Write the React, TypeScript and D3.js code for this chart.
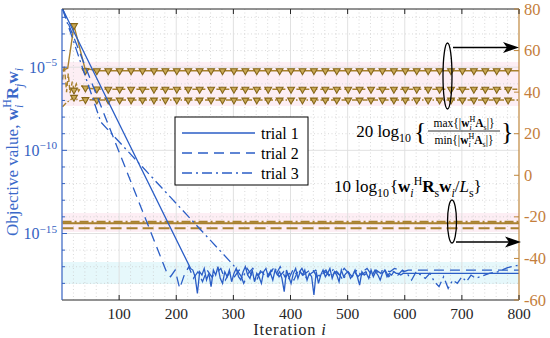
import React from "react";
import * as d3 from "d3";

// objective value (log10 exponent) per iteration, blue curves on the left axis
const trial1Head = [[1, -1.5], [225, -17.1]];
const trial1Floor = [
  -17.2, -17.6, -18.6, -17.3, -17.5, -17.1, -17.8, -17.4, -18.2, -17.2,
  -17.5, -17.0, -17.7, -18.0, -17.3, -17.6, -17.2, -17.9, -17.4, -17.1,
  -17.6, -17.8, -17.3, -17.0, -17.5, -17.7, -17.2, -17.9, -17.4, -17.6,
  -18.0, -17.3, -17.1, -17.6, -17.4, -17.8, -17.2, -17.5, -17.3, -17.7,
  -18.5, -17.2, -17.6, -18.0, -17.4, -17.1, -17.7, -17.3, -17.5, -17.2,
  -17.8, -17.4, -17.6, -18.7, -17.3, -18.0, -17.5, -17.2, -17.6, -17.4,
  -17.1, -17.7, -17.3, -17.5, -17.9, -17.2, -17.6, -17.4, -17.3, -17.7,
  -17.5, -17.2, -17.6, -18.1, -17.3, -17.5, -17.4, -17.7, -17.2, -17.6,
  -17.3, -17.5, -17.8, -17.4, -17.2, -17.6, -17.4, -17.5, -17.3, -17.4,
  -17.4, -17.5, -17.4, -17.4,
];
const trial1Tail = [[605, -17.4], [800, -17.4]];

const trial2Head = [[1, -1.5], [184, -17.4]];
const trial2Floor = [
  -17.6, -17.2, -18.3, -17.5, -17.0, -17.7, -17.3, -17.9, -17.2, -17.6,
  -17.4, -17.1, -17.8, -17.3, -17.6, -17.2, -18.0, -17.4, -17.1, -17.5,
  -17.3, -17.7, -17.2, -17.5, -17.0, -17.6, -17.4, -17.8, -17.2, -17.5,
  -17.3, -17.1, -17.6, -17.4, -17.2, -17.7, -17.3, -17.5, -17.1, -17.4,
  -17.2, -17.6, -17.3, -17.1, -17.5, -17.2, -17.4, -17.2, -17.3, -17.1,
  -17.2, -17.3, -17.2,
];
const trial2Tail = [[614, -17.2], [800, -17.2]];

const trial3Head = [[1, -1.5], [68, -8.3], [300, -16.9]];
const trial3Floor = [
  -17.3, -17.7, -17.1, -17.5, -17.9, -17.2, -17.6, -17.4, -17.0, -17.6,
  -17.3, -17.8, -17.2, -17.5, -17.1, -17.7, -17.4, -17.2, -17.6, -17.3,
  -17.5, -17.1, -17.4, -17.8, -17.3, -17.6, -17.2, -17.5, -17.3, -17.7,
  -17.2, -17.4, -17.1, -17.6, -17.3, -17.5, -17.2, -17.4, -17.8, -17.3,
  -17.5, -17.7, -17.4, -17.9, -18.2, -17.6, -18.3, -17.8, -18.0, -17.6,
  -17.9, -17.5, -17.7, -17.6,
];
const trial3Tail = [[748, -17.4], [764, -17.3], [780, -17.05], [800, -16.9]];

// right axis (dB): max/min ratio curves with triangle markers
const ratioA = [[1, 50.5], [10, 51.5], [21, 72], [40, 51.5], [61, 50.3], [800, 50.3]];
const ratioB = [[1, 46], [4, 53], [8, 40], [11, 49], [14, 39.5], [18, 45], [21, 41], [25, 44], [29, 40.5], [35, 43], [41, 42], [61, 41.5], [81, 41.4], [800, 41.4]];
const ratioC = [[1, 33], [8, 35], [21, 37.5], [31, 35.8], [41, 36.4], [61, 36.2], [800, 36.2]];

// right axis (dB): normalised power curves
const powerA = [[1, -23.1], [800, -23.1]];
const powerB = [[1, -25.5], [800, -25.5]];
const powerC = [[1, -22.3], [800, -22.3]];

const xTicks = [100, 200, 300, 400, 500, 600, 700, 800];
const leftMajor = [-5, -10, -15];
const rightTicks = [80, 60, 40, 20, 0, -20, -40, -60];
const legendNames = ["trial 1", "trial 2", "trial 3"];

const serif = "'Liberation Serif', 'Times New Roman', serif";
const BLUE = "#2b5ec6";
const BLUE_AX = "#3562c2";
const BROWN = "#a8812e";
const BROWN_AX = "#bf863c";
const BROWN_TXT = "#c47e3c";
const DASH = "10,6";
const DASHDOT = "10,4,2,4";

const L = 62, R = 519, T = 9, B = 300;

const floorPts = (start, step, vals) => vals.map((v, i) => [start + step * i, v]);

const MathText = ({ x, y, size, anchor = "start", fill = "#000", segs, transform = undefined }) => {
  let cur = 0;
  const kids = segs.map((s, i) => {
    const target = s.sub ? size * 0.3 : s.sup ? -size * 0.4 : 0;
    const dy = target - cur;
    cur = target;
    return (
      <tspan
        key={i}
        dy={dy || undefined}
        dx={s.dx}
        fontSize={s.sub || s.sup ? size * 0.7 : undefined}
        fontWeight={s.b ? 700 : undefined}
        fontStyle={s.it ? "italic" : undefined}
      >
        {s.t}
      </tspan>
    );
  });
  return (
    <text x={x} y={y} fontSize={size} textAnchor={anchor} fill={fill} fontFamily={serif} transform={transform} style={{ whiteSpace: "pre" }}>
      {kids}
    </text>
  );
};

export default function App() {
  const x = d3.scaleLinear().domain([0, 800]).range([L, R]);
  const yL = d3.scaleLog().domain([1e-19, Math.pow(10, -1.5)]).range([B, T]);
  const yR = d3.scaleLinear().domain([-60, 80]).range([B, T]);

  const lineL = d3.line().x((d) => x(d[0])).y((d) => yL(Math.pow(10, d[1])));
  const lineR = d3.line().x((d) => x(d[0])).y((d) => yR(d[1]));

  const trial1 = [...trial1Head, ...floorPts(229, 4, trial1Floor), ...trial1Tail];
  const trial2 = [...trial2Head, ...floorPts(190, 8, trial2Floor), ...trial2Tail];
  const trial3 = [...trial3Head, ...floorPts(308, 8, trial3Floor), ...trial3Tail];

  const blue = [
    { d: trial1, dash: undefined },
    { d: trial2, dash: DASH },
    { d: trial3, dash: DASHDOT },
  ];
  const ratio = [
    { d: ratioA, dash: undefined },
    { d: ratioB, dash: "5,3" },
    { d: ratioC, dash: "5,2,1.5,2" },
  ];
  const power = [
    { d: powerA, dash: undefined },
    { d: powerB, dash: "11,5" },
    { d: powerC, dash: "9,3,2,3" },
  ];

  const markerIters = d3.range(21, 800, 20);
  const tri = d3.symbol().type(d3.symbolTriangle).size(20)();

  const xMinor = d3.range(20, 800, 20).filter((v) => v % 100 !== 0);
  const decades = d3.range(-18, -1);
  const yMinor = decades.filter((e) => !leftMajor.includes(e));

  return (
    <svg width={550} height={338} style={{ position: "absolute", left: 0, top: 0, display: "block", background: "#fff" }}>
      <defs>
        <clipPath id="plot">
          <rect x={L} y={T} width={R - L} height={B - T} />
        </clipPath>
      </defs>

      {/* faint tinted bands */}
      <rect x={L} y={62} width={R - L} height={44} fill="#fdeef4" />
      <rect x={L} y={213} width={R - L} height={19} fill="#fdeef4" />
      <rect x={L} y={262} width={R - L} height={22} fill="#e6f8fb" />

      {/* grid */}
      <g stroke="#c9c9c9" strokeWidth={0.7} strokeDasharray="1,2.5">
        {xMinor.map((v) => (
          <line key={"xm" + v} x1={x(v)} x2={x(v)} y1={T} y2={B} />
        ))}
        {yMinor.map((e) => (
          <line key={"ym" + e} x1={L} x2={R} y1={yL(Math.pow(10, e))} y2={yL(Math.pow(10, e))} />
        ))}
      </g>
      <g stroke="#dedede" strokeWidth={0.9}>
        {xTicks.slice(0, -1).map((v) => (
          <line key={"xg" + v} x1={x(v)} x2={x(v)} y1={T} y2={B} />
        ))}
        {leftMajor.map((e) => (
          <line key={"yg" + e} x1={L} x2={R} y1={yL(Math.pow(10, e))} y2={yL(Math.pow(10, e))} />
        ))}
      </g>

      <g clipPath="url(#plot)" fill="none">
        {power.map((s, i) => (
          <path key={"p" + i} d={lineR(s.d)} stroke={BROWN} strokeWidth={2} strokeDasharray={s.dash} />
        ))}
        {ratio.map((s, i) => (
          <path key={"r" + i} d={lineR(s.d)} stroke={BROWN} strokeWidth={1.4} strokeDasharray={s.dash} />
        ))}
        {ratio.map((s, i) =>
          markerIters.map((it) => {
            const p = s.d.find((d) => d[0] === it);
            const v = p ? p[1] : s.d[s.d.length - 1][1];
            return (
              <path
                key={"m" + i + "-" + it}
                d={tri}
                transform={`translate(${x(it)},${yR(v)}) rotate(180)`}
                fill="#c9a955"
                stroke="#866619"
                strokeWidth={1.1}
              />
            );
          })
        )}
        {blue.map((s, i) => (
          <path key={"b" + i} d={lineL(s.d)} stroke={BLUE} strokeWidth={1.3} strokeDasharray={s.dash} />
        ))}
      </g>

      {/* frame and axes */}
      <line x1={L} x2={R} y1={T} y2={T} stroke="#262626" strokeWidth={1} />
      <line x1={L} x2={R} y1={B} y2={B} stroke="#262626" strokeWidth={1} />
      <line x1={L} x2={L} y1={T} y2={B} stroke={BLUE_AX} strokeWidth={1.2} />
      <line x1={R} x2={R} y1={T} y2={B} stroke={BROWN_AX} strokeWidth={1.2} />

      {xTicks.map((v) => (
        <g key={"xt" + v}>
          <line x1={x(v)} x2={x(v)} y1={B} y2={B - 5} stroke="#262626" />
          <line x1={x(v)} x2={x(v)} y1={T} y2={T + 5} stroke="#262626" />
          <text x={x(v)} y={318.5} textAnchor="middle" fontFamily={serif} fontSize={15.5} fill="#262626">
            {v}
          </text>
        </g>
      ))}
      <text x={290} y={335} textAnchor="middle" fontFamily={serif} fontSize={16.5} fill="#262626" letterSpacing={0.8}>
        Iteration <tspan fontStyle="italic">i</tspan>
      </text>

      {decades.map((e) => (
        <line key={"lt" + e} x1={L} x2={L + (leftMajor.includes(e) ? 5 : 3)} y1={yL(Math.pow(10, e))} y2={yL(Math.pow(10, e))} stroke={BLUE_AX} />
      ))}
      {leftMajor.map((e) => (
        <MathText key={"ll" + e} x={57} y={yL(Math.pow(10, e)) + 5.5} size={16} anchor="end" fill={BLUE_AX} segs={[{ t: "10" }, { t: "\u2212" + -e, sup: true }]} />
      ))}
      <MathText
        x={0}
        y={0}
        size={17}
        anchor="middle"
        fill="#3b69c9"
        transform="translate(18,152) rotate(-90)"
        segs={[
          { t: "Objective value, " },
          { t: "w", b: true },
          { t: "i", sub: true, it: true },
          { t: "H", sup: true, dx: -3 },
          { t: "R", b: true },
          { t: "j", sub: true, it: true },
          { t: "w", b: true },
          { t: "i", sub: true, it: true },
        ]}
      />

      {rightTicks.map((v) => (
        <g key={"rt" + v}>
          <line x1={R} x2={R - 5} y1={yR(v)} y2={yR(v)} stroke={BROWN_AX} />
          <text x={524} y={yR(v) + 5.5} fontFamily={serif} fontSize={16.5} fill={BROWN_TXT}>
            {v}
          </text>
        </g>
      ))}

      {/* legend */}
      <rect x={175} y={117} width={133} height={68} fill="#fff" stroke="#000" strokeWidth={1} />
      {legendNames.map((n, i) => (
        <g key={n}>
          <line x1={182} x2={255} y1={133 + 20 * i} y2={133 + 20 * i} stroke={BLUE} strokeWidth={1.3} strokeDasharray={blue[i].dash} />
          <text x={261} y={138.5 + 20 * i} fontFamily={serif} fontSize={16} fill="#000">
            {n}
          </text>
        </g>
      ))}

      {/* annotations */}
      <ellipse cx={447.5} cy={76} rx={4.5} ry={33} fill="none" stroke="#000" strokeWidth={1.3} />
      <line x1={453} x2={508} y1={47.5} y2={47.5} stroke="#000" strokeWidth={1.5} />
      <path d="M519,47.5 L503,42 L507,47.5 L503,53 Z" fill="#000" />

      <ellipse cx={452} cy={221.5} rx={4.5} ry={21.5} fill="none" stroke="#000" strokeWidth={1.3} />
      <line x1={456} x2={510} y1={242} y2={242} stroke="#000" strokeWidth={1.5} />
      <path d="M521,242 L505,236.5 L509,242 L505,247.5 Z" fill="#000" />

      <MathText x={411} y={137} size={17} anchor="end" segs={[{ t: "20 log" }, { t: "10", sub: true }]} />
      <text x={414} y={139.5} fontFamily={serif} fontSize={26} fill="#000">{"{"}</text>
      <text x={501} y={139.5} fontFamily={serif} fontSize={26} fill="#000">{"}"}</text>
      <MathText
        x={464}
        y={126.5}
        size={11.5}
        anchor="middle"
        segs={[{ t: "max{|" }, { t: "w", b: true }, { t: "i", sub: true, it: true }, { t: "H", sup: true, dx: -2.3 }, { t: "A", b: true }, { t: "s", sub: true }, { t: "|}" }]}
      />
      <line x1={428} x2={500} y1={131} y2={131} stroke="#000" strokeWidth={0.8} />
      <MathText
        x={464}
        y={143.5}
        size={11.5}
        anchor="middle"
        segs={[{ t: "min{|" }, { t: "w", b: true }, { t: "i", sub: true, it: true }, { t: "H", sup: true, dx: -2.3 }, { t: "A", b: true }, { t: "s", sub: true }, { t: "|}" }]}
      />

      <MathText
        x={334}
        y={191.5}
        size={17}
        segs={[
          { t: "10 log" },
          { t: "10", sub: true },
          { t: "{", dx: 1 },
          { t: "w", b: true },
          { t: "i", sub: true, it: true },
          { t: "H", sup: true },
          { t: "R", b: true },
          { t: "s", sub: true },
          { t: "w", b: true },
          { t: "i", sub: true, it: true },
          { t: "/" },
          { t: "L", it: true },
          { t: "s", sub: true },
          { t: "}" },
        ]}
      />
    </svg>
  );
}
